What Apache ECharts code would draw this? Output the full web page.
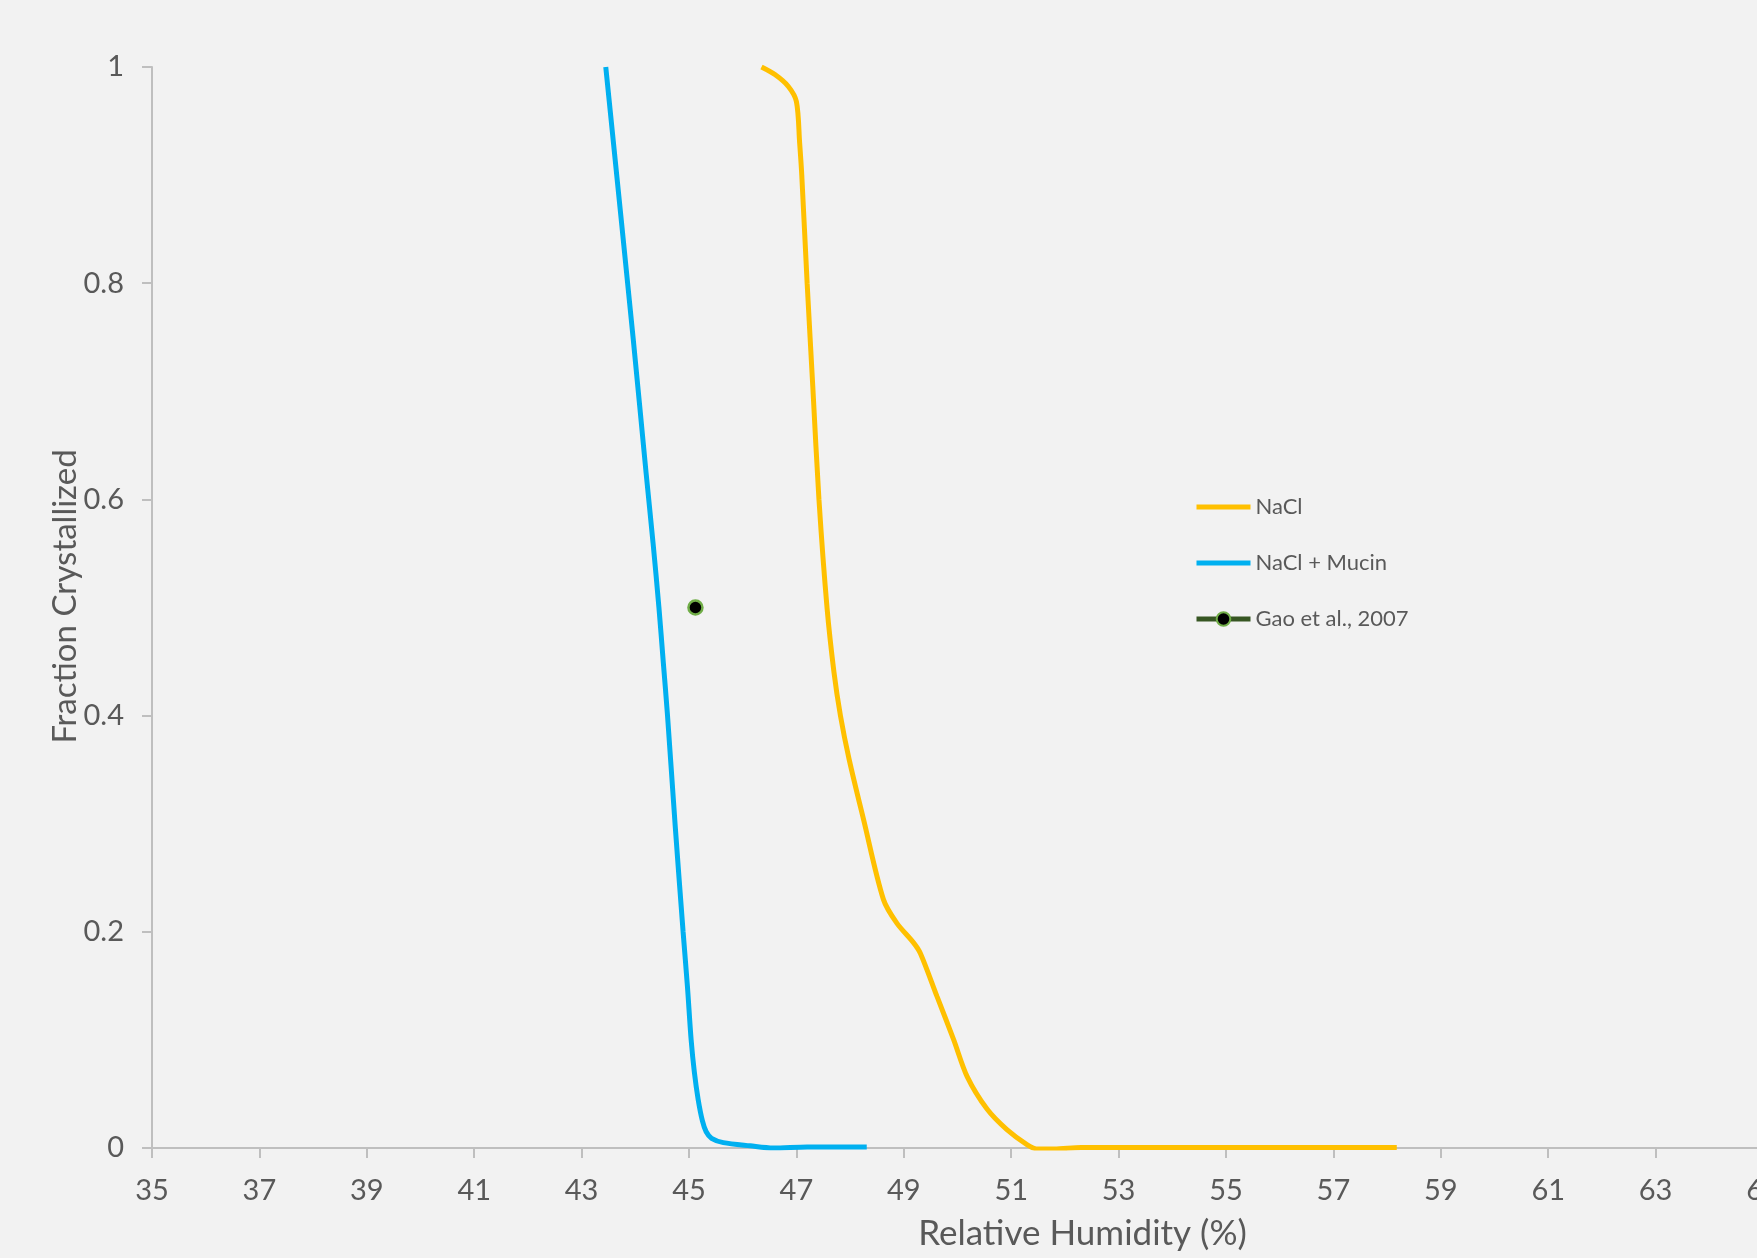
<!DOCTYPE html>
<html>
<head>
<meta charset="utf-8">
<title>Fraction Crystallized vs Relative Humidity</title>
<script src="https://cdn.jsdelivr.net/npm/echarts@6/dist/echarts.min.js"></script>
<style>
  html, body { margin: 0; padding: 0; background: #f2f2f2; }
  #chart { width: 1757px; height: 1258px; }
</style>
</head>
<body>
<div id="chart"></div>
<script>
// NaCl curve
var naclRH   = [46.35, 46.6, 46.85, 47.0, 47.06, 47.1, 47.2, 47.31, 47.42, 47.57, 47.7, 47.82, 47.98, 48.25, 48.62, 48.87, 49.18, 49.31, 49.62, 49.93, 50.18, 50.55, 50.92, 51.3, 51.5, 51.8, 52.3, 55, 58.18];
var naclFrac = [1.0, 0.993, 0.982, 0.968, 0.93, 0.9, 0.8, 0.7, 0.6, 0.5, 0.44, 0.4, 0.36, 0.304, 0.23, 0.208, 0.19, 0.18, 0.14, 0.10, 0.066, 0.036, 0.017, 0.003, -0.001, -0.001, 0.0005, 0.0005, 0.0005];

// NaCl + Mucin curve
var mucinRH   = [43.45, 43.96, 44.2, 44.33, 44.44, 44.52, 44.6, 44.74, 44.89, 44.97, 45.04, 45.1, 45.17, 45.25, 45.32, 45.42, 45.64, 46.14, 46.57, 47.2, 48.31];
var mucinFrac = [1.0, 0.749, 0.625, 0.56, 0.5, 0.45, 0.4, 0.3, 0.2, 0.15, 0.1, 0.07, 0.045, 0.025, 0.015, 0.009, 0.005, 0.002, 0.0, 0.001, 0.001];

// Gao et al., 2007
var gaoRH   = [45.12];
var gaoFrac = [0.5];

var xTicks = { min: 35, max: 65, step: 2 };
var yTicks = { min: 0, max: 1, step: 0.2 };

function pairs(xs, ys) {
  return xs.map(function (x, i) { return [x, ys[i]]; });
}

var axisGrey = '#bfbfbf';
var textGrey = '#595959';
var font = 'Lato, "Open Sans", sans-serif';
var noMarker = { color: 'rgba(0,0,0,0)', borderWidth: 0 };

var chart = echarts.init(document.getElementById('chart'));
chart.setOption({
  backgroundColor: '#f2f2f2',
  animation: false,
  grid: {
    left: 152,
    right: -6,
    top: 67,
    bottom: 110,
    containLabel: false,
    outerBoundsMode: 'none'
  },
  legend: {
    orient: 'vertical',
    left: 1194,
    top: 496,
    padding: 0,
    itemWidth: 54,
    itemHeight: 17,
    itemGap: 34,
    lineStyle: { width: 5 },
    textStyle: { color: textGrey, fontSize: 22, fontFamily: font },
    data: [
      { name: 'NaCl', itemStyle: noMarker },
      { name: 'NaCl + Mucin', itemStyle: noMarker },
      { name: 'Gao et al., 2007' }
    ]
  },
  xAxis: {
    type: 'value',
    min: xTicks.min,
    max: xTicks.max,
    interval: xTicks.step,
    name: 'Relative Humidity (%)',
    nameLocation: 'middle',
    nameGap: 68,
    nameMoveOverlap: false,
    nameTextStyle: { color: textGrey, fontSize: 35, fontFamily: font, padding: [0, 0, 0, 250] },
    axisLine: { show: true, lineStyle: { color: axisGrey, width: 2 } },
    axisTick: { show: true, length: 10, lineStyle: { color: axisGrey, width: 2 } },
    axisLabel: { color: textGrey, fontSize: 29, fontFamily: font, margin: 28, showMaxLabel: true },
    splitLine: { show: false }
  },
  yAxis: {
    type: 'value',
    min: yTicks.min,
    max: yTicks.max,
    interval: yTicks.step,
    name: 'Fraction Crystallized',
    nameLocation: 'middle',
    nameRotate: 90,
    nameGap: 70,
    nameMoveOverlap: false,
    nameTextStyle: { color: textGrey, fontSize: 33, fontFamily: font, padding: [0, 0, 0, 22] },
    axisLine: { show: true, lineStyle: { color: axisGrey, width: 2 } },
    axisTick: { show: true, length: 10, lineStyle: { color: axisGrey, width: 2 } },
    axisLabel: { color: textGrey, fontSize: 29, fontFamily: font, margin: 28 },
    splitLine: { show: false }
  },
  series: [
    {
      name: 'NaCl',
      type: 'line',
      data: pairs(naclRH, naclFrac),
      smooth: 0.3,
      symbol: 'none',
      lineStyle: { color: '#ffc000', width: 5 },
      itemStyle: { color: '#ffc000' }
    },
    {
      name: 'NaCl + Mucin',
      type: 'line',
      data: pairs(mucinRH, mucinFrac),
      smooth: 0.3,
      symbol: 'none',
      lineStyle: { color: '#00b0f0', width: 5 },
      itemStyle: { color: '#00b0f0' }
    },
    {
      name: 'Gao et al., 2007',
      type: 'line',
      data: pairs(gaoRH, gaoFrac),
      symbol: 'circle',
      symbolSize: 14,
      lineStyle: { color: '#375623', width: 5 },
      itemStyle: { color: '#000000', borderColor: '#70ad47', borderWidth: 2.5 }
    }
  ]
});
</script>
</body>
</html>
